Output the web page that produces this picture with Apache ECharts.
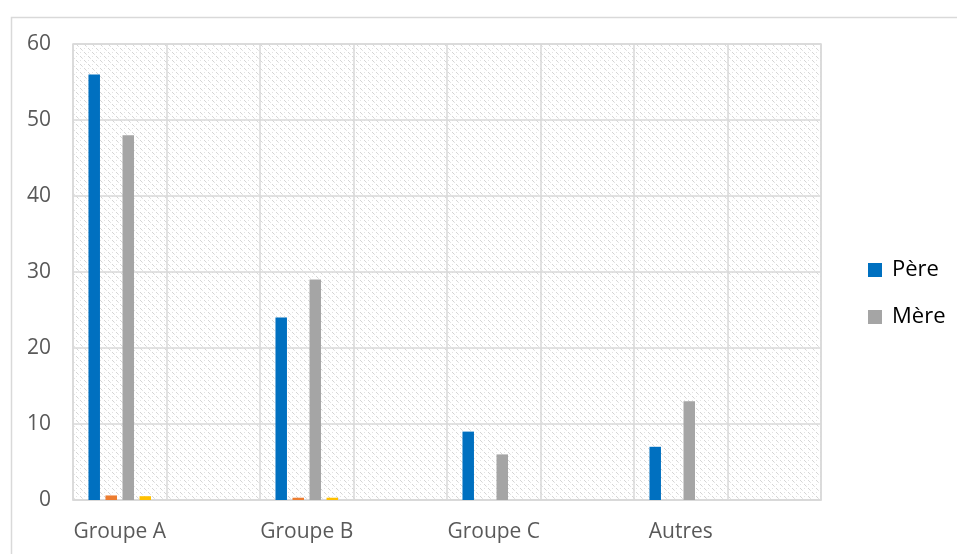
<!DOCTYPE html>
<html>
<head>
<meta charset="utf-8">
<script src="https://cdn.jsdelivr.net/npm/echarts@6/dist/echarts.min.js"></script>
<style>
html,body{margin:0;padding:0;background:#fff;}
#chart{width:957px;height:554px;}
</style>
</head>
<body>
<div id="chart"></div>
<script>
const categories = ['Groupe A', '', 'Groupe B', '', 'Groupe C', '', 'Autres', ''];
const pere = [56, null, 24, null, 9, null, 7, null];
const serie2 = [0.6, null, 0.3, null, 0, null, 0, null];
const mere = [48, null, 29, null, 6, null, 13, null];
const serie4 = [0.5, null, 0.3, null, 0, null, 0, null];
const yTicks = [0, 10, 20, 30, 40, 50, 60];

function makePattern() {
  const c = document.createElement('canvas');
  c.width = 8; c.height = 8;
  const ctx = c.getContext('2d');
  ctx.fillStyle = '#ffffff';
  ctx.fillRect(0, 0, 8, 8);
  ctx.fillStyle = '#d4d4d4';
  ctx.fillRect(0, 0, 1, 1);
  ctx.fillRect(1, 1, 1, 1);
  ctx.fillRect(4, 4, 1, 1);
  ctx.fillRect(5, 5, 1, 1);
  ctx.fillStyle = '#e4e4e4';
  ctx.fillRect(2, 2, 1, 1);
  ctx.fillRect(6, 6, 1, 1);
  ctx.fillRect(4, 0, 1, 1);
  ctx.fillRect(0, 4, 1, 1);
  return c;
}

const chart = echarts.init(document.getElementById('chart'), null, {renderer: 'canvas'});
const font = '"Open Sans", sans-serif';
chart.setOption({
  animation: false,
  backgroundColor: '#ffffff',
  graphic: [{
    type: 'rect',
    left: 9, top: 15,
    shape: {width: 1000, height: 600},
    style: {fill: 'none', stroke: '#d9d9d9', lineWidth: 1.5},
    silent: true
  }],
  grid: {
    left: 73, right: 136, top: 44, bottom: 54,
    show: true,
    backgroundColor: {image: makePattern(), repeat: 'repeat'},
    borderColor: '#d9d9d9',
    borderWidth: 1.5
  },
  legend: {
    orient: 'vertical',
    left: 863, top: 254,
    itemWidth: 14, itemHeight: 14,
    itemGap: 25,
    data: ['Père', 'Mère'],
    textStyle: {fontFamily: font, fontSize: 22, color: '#000', padding: [0, 0, 0, 5]},
    icon: 'rect'
  },
  xAxis: {
    type: 'category',
    data: categories,
    axisLine: {lineStyle: {color: '#d9d9d9', width: 1.5}},
    axisTick: {show: false},
    splitLine: {show: true, lineStyle: {color: '#d9d9d9', width: 1.5}},
    axisLabel: {interval: 0, margin: 22, fontFamily: font, fontSize: 21, color: '#595959'}
  },
  yAxis: {
    type: 'value',
    min: yTicks[0], max: yTicks[yTicks.length - 1], interval: 10,
    axisLine: {show: false},
    axisTick: {show: false},
    splitLine: {lineStyle: {color: '#d9d9d9', width: 1.5}},
    axisLabel: {margin: 22, fontFamily: font, fontSize: 21, color: '#595959'}
  },
  series: [
    {name: 'Père', type: 'bar', data: pere, itemStyle: {color: '#0070C0'}, barWidth: 11.5, barGap: '48%', barCategoryGap: '33%'},
    {name: 'Série 2', type: 'bar', data: serie2, itemStyle: {color: '#ED7D31'}, barWidth: 11.5},
    {name: 'Mère', type: 'bar', data: mere, itemStyle: {color: '#A5A5A5'}, barWidth: 11.5},
    {name: 'Série 4', type: 'bar', data: serie4, itemStyle: {color: '#FFC000'}, barWidth: 11.5}
  ]
});
</script>
</body>
</html>
